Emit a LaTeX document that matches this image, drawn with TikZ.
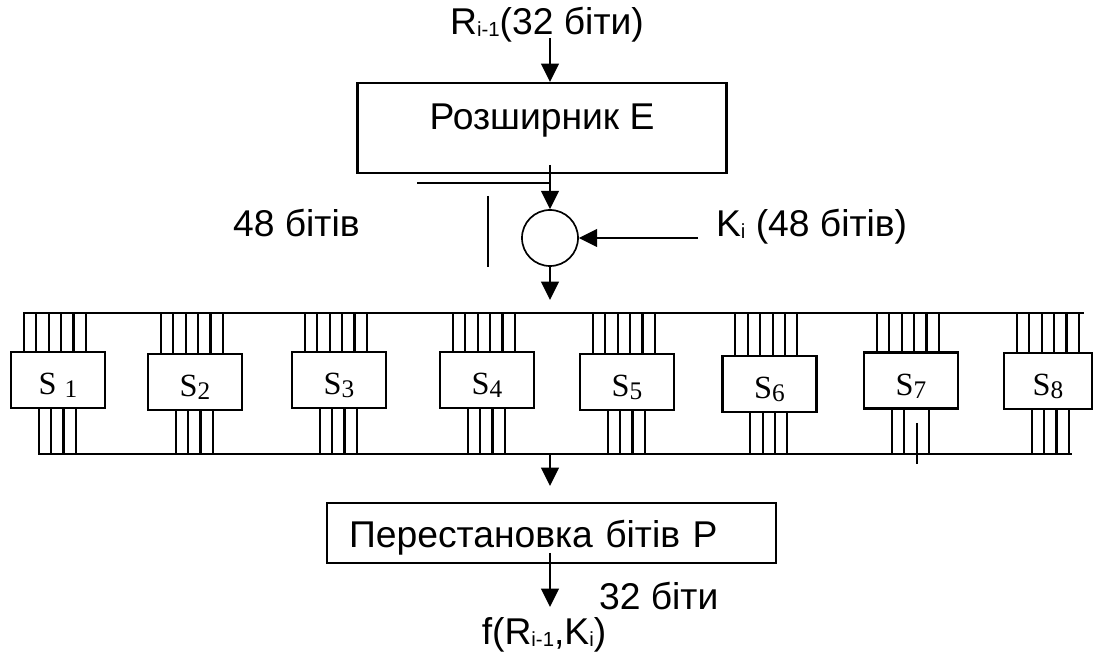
\documentclass[tikz,border=0pt]{standalone}
\usepackage{fontspec}
\setmainfont{Liberation Sans}
\newfontfamily\sboxfont{Liberation Serif}
\usepackage{tikz}
\usetikzlibrary{arrows.meta, calc}

\newcommand{\lowsub}[1]{\raisebox{-0.1ex}{\fontsize{14.5}{16}\selectfont #1}}
\newcommand{\sidx}[1]{\raisebox{-0.2ex}{\fontsize{18}{20}\selectfont #1}}

\begin{document}
\begin{tikzpicture}[x=0.025cm, y=-0.025cm, line width=1.5pt, >={Triangle[length=13pt, width=12.5pt]},
        txt/.style = {inner sep=0, font=\fontsize{26.5}{30}\selectfont},
        blk/.style = {draw, inner sep=0, font=\fontsize{26.5}{30}\selectfont},
        sbox/.style = {draw, inner sep=0, minimum height=1.4cm, text height=21pt, text depth=0pt, font=\sboxfont\fontsize{23}{26}\selectfont},
        xor/.style = {draw, circle, line width=1.2pt, inner sep=0, minimum size=1.4cm}]

    \useasboundingbox (0,0) rectangle (1094,661);

    % Expansion E
    \node[txt, anchor=base] (rin) at (547,35) {R\lowsub{i-1}(32 біти)};
    \node[blk, anchor=base, minimum width=9.225cm, text height=1.175cm, text depth=1.075cm] (exp) at (542,130) {Розширник E};
    \coordinate (rarr) at (550,38);
    \draw[->] (rarr) -- (rarr |- exp.north);

    % XOR with the round key
    \node[xor] (x) at (550,238) {};
    \coordinate (eout) at (550,165);
    \draw[->] (eout) -- (x.north);
    \coordinate (hl) at (417,183);
    \draw (hl) -- (hl -| eout);
    \coordinate (vl) at (488,196);
    \draw (vl) -- ++(0,71);
    \node[txt, anchor=base west] (w48) at (232,237) {48 бітів};
    \node[txt, anchor=base west] (key) at (715,237) {K\lowsub{i} (48 бітів)};
    \coordinate (kin) at (698,238);
    \draw[->] (kin) -- (x.east);
    \coordinate (xout) at (550,300);
    \draw[->] (x.south) -- (xout);

    % S-boxes between the two buses
    \coordinate (tbus) at (23,313); \coordinate (tbusend) at (1084,313);
    \coordinate (bbus) at (38,454); \coordinate (bbusend) at (1072,454);
    \draw (tbus) -- (tbusend);
    \draw (bbus) -- (bbusend);
    \foreach \n/\x/\y/\w/\lbl in {1/58/380/2.35cm/{S \sidx{1}}, 2/195/382/2.35cm/{S\sidx{2}}, 3/339/380/2.35cm/{S\sidx{3}},
                                  4/487/380/2.35cm/{S\sidx{4}}, 5/627/382/2.35cm/{S\sidx{5}}, 6/769.5/384/2.35cm/{S\sidx{6}},
                                  7/911/380.5/2.35cm/{S\sidx{7}}, 8/1048/381/2.2cm/{S\sidx{8}}} {
        \node[sbox, minimum width=\w] (s\n) at (\x,\y) {\lbl};
        \foreach \k in {0,...,5} \draw ($(s\n.north west)+({14+12.4*\k},0)$) coordinate (i) -- (i |- tbus);
    }
    \foreach \n in {1,2,3,4,5,6,8}
        \foreach \k in {0,...,3} \draw ($(s\n.south west)+({29+12.3*\k},0)$) coordinate (o) -- (o |- bbus);
    \foreach \k in {0,1,3} \draw ($(s7.south west)+({29+12.3*\k},0)$) coordinate (o) -- (o |- bbus);
    \coordinate (st) at (917,423);
    \draw (st) -- ++(0,41);

    % Permutation P
    \coordinate (bout) at (550,455);
    \coordinate (pin) at (550,486);
    \draw[->] (bout) -- (pin);
    \node[blk, anchor=base west, align=left, text width=10.125cm, inner xsep=0.55cm, text height=1.125cm, text depth=0.375cm] (perm) at (326,548) {Перестановка бітів P};
    \coordinate (pout) at (550,553);
    \coordinate (fin) at (550,607);
    \draw[->] (pout) -- (fin);
    \node[txt, anchor=base west] (b32) at (598,610) {32 біти};
    \node[txt, anchor=base] (fout) at (544,645) {f(R\lowsub{i-1},K\lowsub{i})};
\end{tikzpicture}
\end{document}
